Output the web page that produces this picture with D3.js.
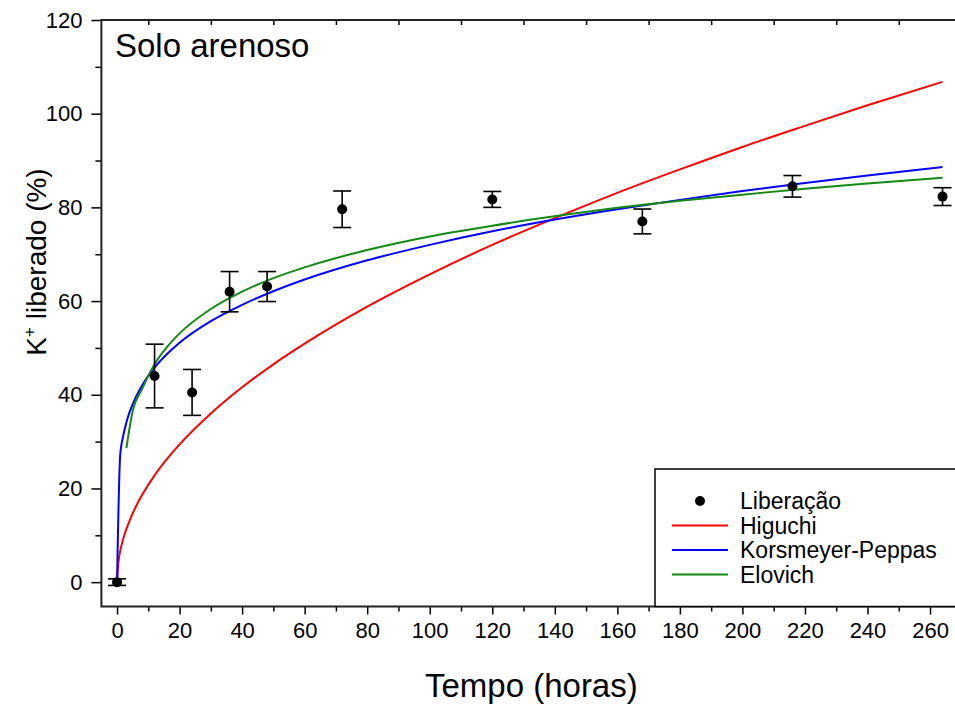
<!DOCTYPE html>
<html>
<head>
<meta charset="utf-8">
<script src="https://cdn.jsdelivr.net/npm/d3@7"></script>
<style>
  body { margin: 0; background: #fff; }
  svg { display: block; font-family: "Liberation Sans", Arial, sans-serif; }
</style>
</head>
<body>
<div id="chart"></div>
<script>
// measured points (Liberação) with error bars
var tempo = [0, 12, 24, 36, 48, 72, 120, 168, 216, 264];
var liberacao = [0, 44, 40.5, 62, 63.1, 79.6, 81.7, 77, 84.5, 82.3];
var desvio = [0.7, 6.8, 4.9, 4.3, 3.2, 3.9, 1.7, 2.65, 2.3, 1.9];

// fitted curves
var tHiguchi = [0, 0.5, 1, 2, 4, 6, 8, 12, 16, 20, 30, 40, 50, 60, 80, 100, 120, 140, 160, 180, 200, 220, 240, 264];
var higuchi = [0, 4.6, 6.6, 9.3, 13.1, 16.1, 18.6, 22.8, 26.3, 29.4, 36.0, 41.6, 46.5, 50.9, 58.8, 65.7, 72.0, 77.7, 83.1, 88.1, 92.9, 97.4, 101.8, 106.8];

var tKorsmeyer = [0, 1, 2, 3, 4, 6, 8, 12, 16, 20, 30, 40, 50, 60, 80, 100, 120, 140, 160, 180, 200, 220, 240, 264];
var korsmeyer = [0, 27, 31.3, 34.1, 36.3, 39.5, 42.0, 45.8, 48.7, 51.1, 55.7, 59.2, 62.1, 64.6, 68.7, 72.0, 74.9, 77.4, 79.6, 81.6, 83.5, 85.2, 86.8, 88.6];

var tElovich = [3, 5, 8, 12, 16, 20, 30, 40, 50, 60, 80, 100, 120, 140, 160, 180, 200, 220, 240, 264];
var elovich = [28.6, 36.5, 41.2, 46.5, 50.2, 53.1, 58.3, 62.0, 64.9, 67.2, 70.9, 73.8, 76.1, 78.1, 79.9, 81.4, 82.7, 84.0, 85.1, 86.3];

var xMajor = [0, 20, 40, 60, 80, 100, 120, 140, 160, 180, 200, 220, 240, 260];
var xMinor = [10, 30, 50, 70, 90, 110, 130, 150, 170, 190, 210, 230, 250, 270];
var yMajor = [0, 20, 40, 60, 80, 100, 120];
var yMinor = [10, 30, 50, 70, 90, 110];

var legendNames = ["Liberação", "Higuchi", "Korsmeyer-Peppas", "Elovich"];
var legendColors = ["#000", "#ff0000", "#0000ff", "#128a12"];

var W = 955, H = 708;

var svg = d3.select("#chart")
  .append("svg")
  .attr("width", W)
  .attr("height", H)

// scales
var x = d3.scaleLinear().domain([-5, 270]).range([101.4, 961.3])
var y = d3.scaleLinear().domain([-5.2, 120]).range([606.5, 20])

var x0 = x(-5), x1 = x(270), yb = y(-5.2), yt = y(120)

// X axis (bottom) - major ticks with labels
var gx = svg.append("g")
  .attr("transform", "translate(0," + yb + ")")
  .call(d3.axisBottom(x).tickValues(xMajor).tickSize(8).tickPadding(8))
gx.select(".domain").remove()
gx.selectAll("text").style("font-size", "22px").attr("fill", "#000")
gx.selectAll("line").attr("stroke", "#000").attr("stroke-width", 1.5)

svg.append("g")
  .attr("transform", "translate(0," + yb + ")")
  .call(d3.axisBottom(x).tickValues(xMinor.filter(function (d) { return d < 268 })).tickSize(5).tickFormat(""))
  .call(function (g) { g.select(".domain").remove() })
  .selectAll("line").attr("stroke", "#000").attr("stroke-width", 1.5)

// top ticks pointing inwards
svg.append("g")
  .attr("transform", "translate(0," + yt + ")")
  .call(d3.axisBottom(x).tickValues(xMinor).tickSize(5).tickFormat(""))
  .call(function (g) { g.select(".domain").remove() })
  .selectAll("line").attr("stroke", "#000").attr("stroke-width", 1.5)

// Y axis (left)
var gy = svg.append("g")
  .attr("transform", "translate(" + x0 + ",0)")
  .call(d3.axisLeft(y).tickValues(yMajor).tickSize(10).tickPadding(9))
gy.select(".domain").remove()
gy.selectAll("text").style("font-size", "22px").attr("fill", "#000")
gy.selectAll("line").attr("stroke", "#000").attr("stroke-width", 1.5)

svg.append("g")
  .attr("transform", "translate(" + x0 + ",0)")
  .call(d3.axisLeft(y).tickValues(yMinor).tickSize(6).tickFormat(""))
  .call(function (g) { g.select(".domain").remove() })
  .selectAll("line").attr("stroke", "#000").attr("stroke-width", 1.5)

// frame
svg.append("path")
  .attr("d", "M" + x1 + "," + yt + "H" + x0 + "V" + yb + "H" + x1)
  .attr("fill", "none")
  .attr("stroke", "#222")
  .attr("stroke-width", 2)

// curves
function curve(ts, vs, color) {
  var pts = ts.map(function (t, i) { return [t, vs[i]] })
  svg.append("path")
    .datum(pts)
    .attr("fill", "none")
    .attr("stroke", color)
    .attr("stroke-width", 2)
    .attr("d", d3.line()
      .x(function (d) { return x(d[0]) })
      .y(function (d) { return y(d[1]) })
      .curve(d3.curveMonotoneX))
}
curve(tHiguchi, higuchi, legendColors[1])
curve(tKorsmeyer, korsmeyer, legendColors[2])
curve(tElovich, elovich, legendColors[3])

// error bars + points
var pts = tempo.map(function (t, i) { return { t: t, v: liberacao[i], e: desvio[i] } })
var eb = svg.append("g").attr("stroke", "#000").attr("stroke-width", 1.6)
eb.selectAll("line.v").data(pts).enter().append("line")
  .attr("x1", function (d) { return x(d.t) })
  .attr("x2", function (d) { return x(d.t) })
  .attr("y1", function (d) { return y(d.v - d.e) })
  .attr("y2", function (d) { return y(d.v + d.e) })
eb.selectAll("line.top").data(pts).enter().append("line")
  .attr("x1", function (d) { return x(d.t) - 9 })
  .attr("x2", function (d) { return x(d.t) + 9 })
  .attr("y1", function (d) { return y(d.v + d.e) })
  .attr("y2", function (d) { return y(d.v + d.e) })
eb.selectAll("line.bot").data(pts).enter().append("line")
  .attr("x1", function (d) { return x(d.t) - 9 })
  .attr("x2", function (d) { return x(d.t) + 9 })
  .attr("y1", function (d) { return y(d.v - d.e) })
  .attr("y2", function (d) { return y(d.v - d.e) })

svg.append("g").selectAll("circle").data(pts).enter().append("circle")
  .attr("cx", function (d) { return x(d.t) })
  .attr("cy", function (d) { return y(d.v) })
  .attr("r", 5)
  .attr("fill", "#000")

// panel label
svg.append("text")
  .attr("x", 115)
  .attr("y", 57)
  .style("font-size", "33px")
  .text("Solo arenoso")

// axis titles
svg.append("text")
  .attr("x", (x0 + x1) / 2)
  .attr("y", 697)
  .attr("text-anchor", "middle")
  .style("font-size", "33px")
  .text("Tempo (horas)")

var yl = svg.append("text")
  .attr("transform", "translate(46," + 262 + ") rotate(-90)")
  .attr("text-anchor", "middle")
  .style("font-size", "28px")
yl.append("tspan").text("K")
yl.append("tspan").attr("dy", -11).style("font-size", "17px").text("+")
yl.append("tspan").attr("dy", 11).text(" liberado (%)")

// legend
svg.append("rect")
  .attr("x", 655)
  .attr("y", 469)
  .attr("width", 320)
  .attr("height", yb - 469)
  .attr("fill", "#fff")
  .attr("stroke", "#000")
  .attr("stroke-width", 1.5)

var lg = svg.append("g")
legendNames.forEach(function (name, i) {
  var cy = 501 + i * 24.5
  if (i === 0) {
    lg.append("circle").attr("cx", 700).attr("cy", cy).attr("r", 5).attr("fill", "#000")
  } else {
    lg.append("line")
      .attr("x1", 672).attr("x2", 728)
      .attr("y1", cy).attr("y2", cy)
      .attr("stroke", legendColors[i])
      .attr("stroke-width", 2)
  }
  lg.append("text")
    .attr("x", 740)
    .attr("y", cy)
    .attr("dy", "0.36em")
    .style("font-size", "23px")
    .text(name)
})
</script>
</body>
</html>
